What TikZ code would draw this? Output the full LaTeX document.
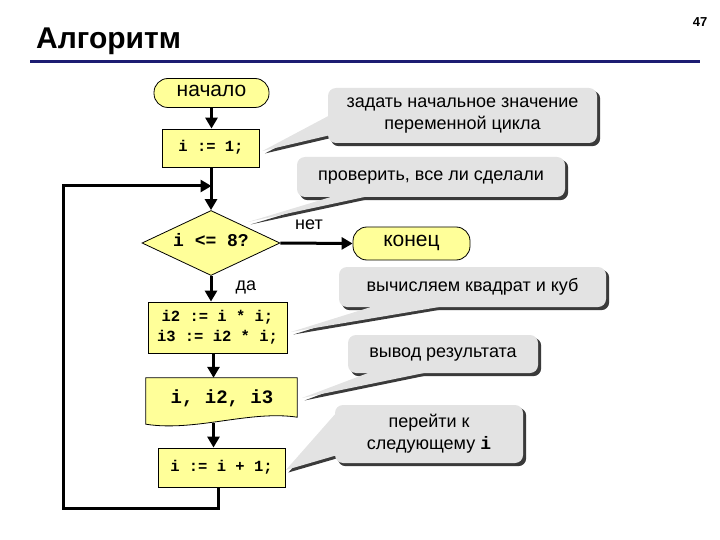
\documentclass[tikz,border=0pt]{standalone}
\usepackage{fontspec}
\setmainfont{Liberation Sans}
\setmonofont{Liberation Mono}
\usetikzlibrary{arrows.meta,shapes.geometric,calc}
\pgfdeclarelayer{shadowlayer}
\pgfsetlayers{shadowlayer,main}
\definecolor{yfill}{HTML}{FFFF99}
\definecolor{cgray}{HTML}{E3E3E3}
\definecolor{shadowc}{HTML}{3A3A3A}
\definecolor{navy}{HTML}{1C1C72}
\newcommand\calloutstrut{\rule[-5pt]{0pt}{17pt}}
\newcommand\codestrut{\rule[-4pt]{0pt}{16pt}}
\newcommand\diastrut{\rule[-6pt]{0pt}{16pt}}
\newcommand\mycallout[4]{%
  \begin{pgfonlayer}{shadowlayer}
    \fill[shadowc,rounded corners=8pt] ($(#1.south west)+(3,3)$) rectangle ($(#1.north east)+(3,3)$);
    \fill[shadowc] ($#2+(2.5,2.5)$) -- ($#3+(2.5,2.5)$) -- ($#4+(2.5,2.5)$) -- cycle;
  \end{pgfonlayer}
  \fill[cgray] #2 -- #3 -- #4 -- cycle;}
\begin{document}
\begin{tikzpicture}[x=1pt,y=-1pt,
  fc/.style={draw=black,line width=0.8pt,fill=yfill,inner sep=0pt},
  codebox/.style={fc,rectangle,font=\ttfamily\bfseries\fontsize{15.5}{20}\selectfont,align=center},
  term/.style={fc,rectangle,rounded corners=14pt,font=\fontsize{21}{24}\selectfont},
  arr/.style={line width=3pt,-{Triangle[length=11pt,width=12pt]}},
  lbl/.style={font=\fontsize{18}{20}\selectfont,inner sep=0pt},
  callout/.style={rectangle,rounded corners=8pt,fill=cgray,inner sep=0pt,align=center,font=\fontsize{18}{22}\selectfont},
]
\useasboundingbox (0,0) rectangle (720,540);
% header
\node[font=\bfseries\fontsize{13}{15}\selectfont,inner sep=0pt] (pnum) at (700,22) {47};
\node[font=\bfseries\fontsize{30}{34}\selectfont,anchor=west,inner sep=0pt] (title) at (36,41) {Алгоритм};
\draw[navy,line width=3pt] (30,62) -- (700,62);

% flowchart
\node[term,minimum width=115pt,minimum height=29pt] (start) at (211.5,93) {\calloutstrut начало};
\node[codebox,minimum width=97pt,minimum height=38pt] (i1) at (211,148) {\codestrut i := 1;};
\node[fc,diamond,aspect=2.1,minimum width=138pt,minimum height=65pt,font=\ttfamily\bfseries\fontsize{18}{20}\selectfont] (cond) at (211,243) {\diastrut i <= 8?};
\node[term,minimum width=117pt,minimum height=33pt] (fin) at (411.5,243.5) {\calloutstrut конец};
\node[codebox,minimum width=139pt,minimum height=51pt] (calc) at (217.5,327.5) {\codestrut i2 := i * i;\\\codestrut i3 := i2 * i;};
\node[inner sep=0pt,minimum width=151pt,minimum height=46pt] (out) at (221.5,401) {};
\draw[fc] (out.north west) -- (out.north east) -- ($(out.south east)+(0,-7)$)
  .. controls (250,410) and (195,432) .. (out.south west) -- cycle;
\node[font=\ttfamily\bfseries\fontsize{19}{22}\selectfont,inner sep=0pt] (outtxt) at (222,398) {i, i2, i3};
\node[codebox,minimum width=127pt,minimum height=39pt] (inc) at (221.5,467.5) {i := i + 1;};

\coordinate (ax) at (213.5,0);
\coordinate (j) at (211.5,186);
\coordinate (lb) at ($(inc.south)+(-3.5,0)$);
\coordinate (lc) at (63,508);

\draw[arr] (start.south) -- (start.south |- i1.north);
\draw[arr] (i1.south) -- (cond.north);
\draw[arr] (cond.east) -- (fin.west);
\draw[arr] (cond.south) -- (cond.south |- calc.north);
\draw[arr] (calc.south -| ax) -- (out.north -| ax);
\draw[arr] ($(out.south -| ax)+(0,-1)$) -- (inc.north -| ax);
\draw[arr] (lb) |- (lc) |- (j);

\node[lbl] (no) at (309,225) {нет};
\node[lbl] (yes) at (246,287) {да};

% callouts
\node[callout,minimum width=269pt,minimum height=55pt] (c1) at (462.5,115.5) {\calloutstrut задать начальное значение\\\calloutstrut переменной цикла};
\coordinate (a1) at ($(i1.east)+(2.5,3)$);
\coordinate (b1a) at ($(c1.south west)+(2,-28)$);
\coordinate (b1b) at ($(c1.south west)+(2,-8)$);
\mycallout{c1}{(a1)}{(b1a)}{(b1b)}

\node[callout,minimum width=268pt,minimum height=40pt] (c2) at (431,177) {\calloutstrut проверить, все ли сделали};
\coordinate (a2) at (248,222);
\coordinate (b2a) at ($(c2.south west)+(40,-2)$);
\coordinate (b2b) at ($(c2.south west)+(76,-2)$);
\mycallout{c2}{(a2)}{(b2a)}{(b2b)}

\node[callout,minimum width=267pt,minimum height=40pt] (c3) at (472.5,287) {\calloutstrut вычисляем квадрат и куб};
\coordinate (a3) at ($(calc.east)+(3.5,4.5)$);
\coordinate (b3a) at ($(c3.south west)+(38,-2)$);
\coordinate (b3b) at ($(c3.south west)+(111,-2)$);
\mycallout{c3}{(a3)}{(b3a)}{(b3b)}

\node[callout,minimum width=190pt,minimum height=38pt] (c4) at (443,354) {\calloutstrut вывод результата};
\coordinate (a4) at (302,398);
\coordinate (b4a) at ($(c4.south west)+(25,-2)$);
\coordinate (b4b) at ($(c4.south west)+(85,-2)$);
\mycallout{c4}{(a4)}{(b4a)}{(b4b)}

\node[callout,minimum width=188pt,minimum height=58pt] (c5) at (429,434) {\calloutstrut перейти к\\\calloutstrut следующему {\ttfamily\bfseries i}};
\coordinate (a5) at ($(inc.east)+(0.5,2.5)$);
\coordinate (b5a) at ($(c5.south west)+(2,-51)$);
\coordinate (b5b) at ($(c5.south west)+(2,-8)$);
\mycallout{c5}{(a5)}{(b5a)}{(b5b)}
\end{tikzpicture}
\end{document}
